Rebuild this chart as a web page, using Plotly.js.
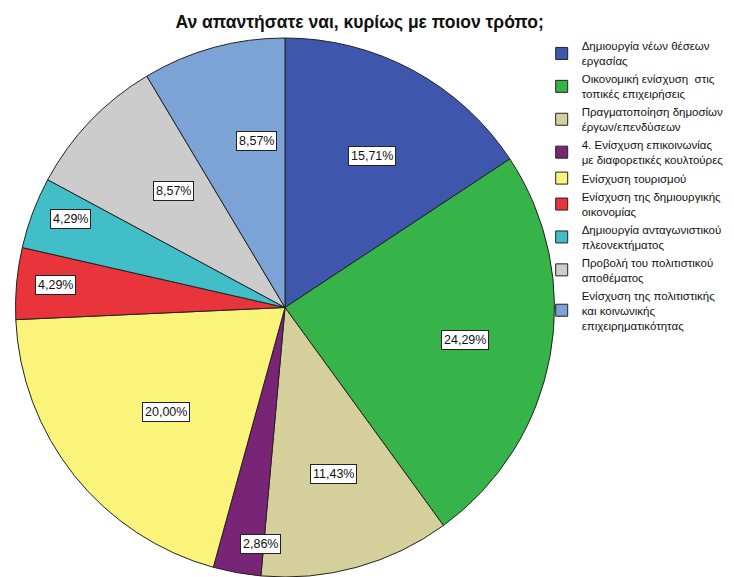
<!DOCTYPE html>
<html>
<head>
<meta charset="utf-8">
<script src="https://cdn.plot.ly/plotly-3.0.1.min.js"></script>
<style>html,body{margin:0;padding:0;background:#fff;}#chart{width:734px;height:577px;}</style>
</head>
<body>
<div id="chart"></div>
<script>
const categories = [
  "Δημιουργία νέων θέσεων<br>εργασίας",
  "Οικονομική ενίσχυση  στις<br>τοπικές επιχειρήσεις",
  "Πραγματοποίηση δημοσίων<br>έργων/επενδύσεων",
  "4. Ενίσχυση επικοινωνίας<br>με διαφορετικές κουλτούρες",
  "Ενίσχυση τουρισμού",
  "Ενίσχυση της δημιουργικής<br>οικονομίας",
  "Δημιουργία ανταγωνιστικού<br>πλεονεκτήματος",
  "Προβολή του πολιτιστικού<br>αποθέματος",
  "Ενίσχυση της πολιτιστικής<br>και κοινωνικής<br>επιχειρηματικότητας"
];
const percents = [15.71, 24.29, 11.43, 2.86, 20.00, 4.29, 4.29, 8.57, 8.57];
const colors = ["#3e57ad", "#36b449", "#d5cf9c", "#7a2478", "#fbf47a", "#e8343a", "#42bec8", "#cccccc", "#7ba3d6"];

const W = 734, H = 577;
const mT = 32, mB = 0, mL = 0, mR = 0;
const plotH = H - mT - mB;
const pieTop = 38;
const R = (H - pieTop) / 2;
const cxPx = 285;
const cyPx = pieTop + R;
const domX = [(cxPx - R) / W, (cxPx + R) / W];
const domY = [0, (H - pieTop) / plotH];

const total = percents.reduce((a, b) => a + b, 0);
const annotations = [];
let cum = 0;
percents.forEach((p) => {
  const mid = (cum + p / 2) / total * 2 * Math.PI;
  cum += p;
  const f = p < 5 ? 0.93 : 0.68;
  const px = cxPx + f * R * Math.sin(mid);
  const py = cyPx - f * R * Math.cos(mid);
  annotations.push({
    x: px / W, y: 1 - (py - mT) / plotH, xref: "paper", yref: "paper",
    text: p.toFixed(2).replace(".", ",") + "%", showarrow: false,
    font: {family: "Liberation Sans, Arial, sans-serif", size: 12.5, color: "#111"},
    bgcolor: "#ffffff", bordercolor: "#222", borderwidth: 1, borderpad: 2
  });
});

const data = [{
  type: "pie",
  labels: categories,
  values: percents,
  sort: false,
  direction: "clockwise",
  rotation: 0,
  marker: {colors: colors, line: {color: "#222", width: 1}},
  textinfo: "none",
  hoverinfo: "label+percent",
  domain: {x: domX, y: domY}
}];

const layout = {
  width: W, height: H,
  margin: {l: mL, r: mR, t: mT, b: mB},
  paper_bgcolor: "#ffffff",
  title: {text: "<b>Αν απαντήσατε ναι, κυρίως με ποιον τρόπο;</b>", x: 0.49, xanchor: "center", y: 0.962, yanchor: "middle",
          font: {family: "Liberation Sans, Arial, sans-serif", size: 17.5, color: "#111"}},
  showlegend: true,
  legend: {x: 0.738, xanchor: "left", y: 1, yanchor: "top",
           font: {family: "Liberation Sans, Arial, sans-serif", size: 11.5, color: "#111"},
           itemwidth: 30, tracegroupgap: 0, bgcolor: "rgba(0,0,0,0)"},
  annotations: annotations
};

Plotly.newPlot("chart", data, layout, {displayModeBar: false, staticPlot: true});
</script>
</body>
</html>
